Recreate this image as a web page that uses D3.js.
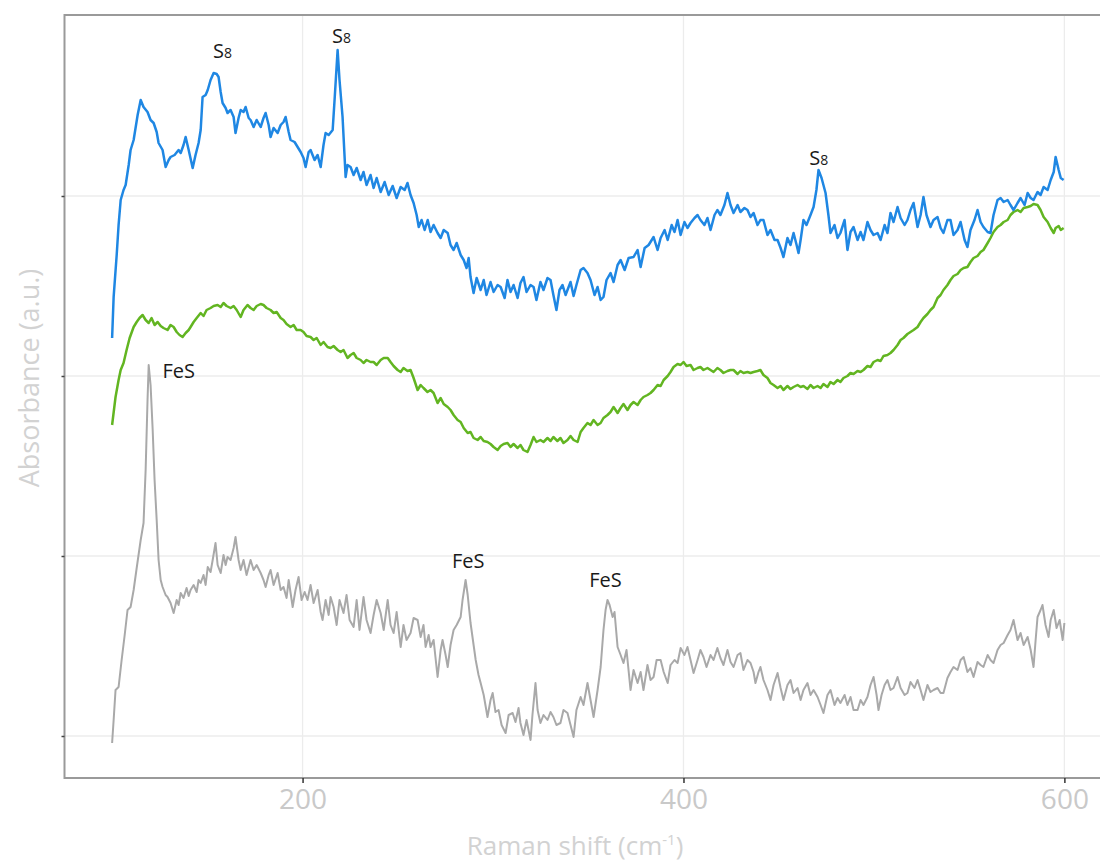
<!DOCTYPE html>
<html>
<head>
<meta charset="utf-8">
<script src="https://cdn.jsdelivr.net/npm/d3@7"></script>
<style>
  body { margin: 0; background: #fff; }
  svg { display: block; }
</style>
</head>
<body>
<div id="chart"></div>
<script>
// Raman shift (cm-1) vs absorbance (a.u.)
const xTicks = [200, 400, 600];
const yTicks = [0, 180, 360, 540];

// [shift, absorbance]
const blueSpectrum = [
  [100,398],[100.8,439],[102.4,481],[103.4,511],[104.5,536],[106,546],[107.1,551],[108.7,571],[109.7,586],[111.3,596],
  [113.4,621],[115,636],[116.5,629],[118.6,624],[120.2,616],[121.8,613],[123.4,604],[124.4,593],[126.5,586],[128.1,569],
  [129.7,576],[130.7,579],[132.8,581],[134.9,586],[136,583],[137.5,591],[138.6,599],[140.2,586],[142.3,568],[143.8,581],
  [145.4,593],[146.5,606],[147.5,639],[149.1,641],[150.2,646],[151.7,656],[153.3,663],[154.9,662],[155.9,659],[157,644],
  [158,633],[159.6,628],[160.6,623],[162.2,626],[163.8,619],[164.8,603],[166.4,618],[167.5,626],[169,624],[170.1,629],
  [171.7,618],[172.7,616],[174.3,609],[175.9,616],[178,609],[179.5,618],[180.6,623],[182.2,611],[183.2,599],[184.8,608],
  [186.9,603],[188.5,611],[190,614],[191.1,619],[192.7,604],[193.7,596],[195.8,594],[197.4,589],[199,584],[200.5,578],
  [201.6,569],[203.2,584],[204.2,586],[206.3,576],[207.9,581],[209.5,569],[211,591],[212.1,603],[213.7,601],[215.8,606],
  [216.8,636],[218.4,686],[219.4,656],[221,619],[222.6,559],[223.6,571],[225.2,569],[226.8,561],[228.4,568],[230.5,556],
  [232,564],[233.6,551],[235.7,561],[237.3,548],[238.9,558],[241,544],[243.1,554],[245.2,541],[247.3,550],[249.4,538],
  [251.5,549],[253.6,546],[255.1,553],[256.7,541],[258.3,533],[259.9,521],[261,509],[262.5,516],[264.1,506],[265.7,516],
  [267.2,504],[268.8,511],[270.9,503],[272.5,498],[274.1,506],[276.2,503],[277.7,491],[279.3,486],[280.9,493],[283,481],
  [284.6,476],[286.1,468],[287.2,478],[288.2,459],[289.8,443],[291.4,458],[293.5,446],[295.1,456],[296.6,441],[298.7,454],
  [300.3,444],[302.4,451],[304,449],[306.1,438],[307.6,456],[309.2,444],[310.8,451],[312.9,438],[314.4,453],[316,459],
  [317.6,444],[319.7,451],[321.3,449],[322.8,436],[324.9,454],[326.5,446],[328.6,458],[330.2,456],[331.7,441],[333.3,426],
  [334.9,446],[336.5,451],[338.1,441],[339.1,446],[340.7,454],[342.3,440],[343.8,451],[346,466],[347.5,468],[349.6,463],
  [351.2,456],[353.3,441],[354.9,449],[356.5,436],[358,439],[359.6,456],[361.7,463],[363.3,454],[365.4,471],[367,476],
  [369.1,466],[371.2,478],[373.8,479],[375.9,486],[377.5,469],[379.6,488],[381.7,491],[384.3,499],[386.4,486],[388,498],
  [390.1,506],[391.7,496],[393.8,511],[395.3,504],[396.9,516],[398.5,501],[400.5,514],[402.1,508],[403.7,513],[405.8,518],
  [407.4,521],[408.9,516],[411,511],[412.6,518],[414.2,506],[416.3,521],[417.8,526],[419.4,521],[421.5,531],[423.1,543],
  [424.7,531],[426.3,523],[428.4,531],[429.9,524],[432,528],[433.6,526],[435.2,519],[436.8,523],[438.9,511],[440.4,516],
  [442,516],[444.1,501],[445.7,506],[447.8,496],[449.4,496],[451,488],[452.5,479],[454.6,498],[456.2,491],[457.8,503],
  [459.4,491],[460.4,483],[461.5,496],[463,516],[464.6,511],[466.7,521],[468.3,529],[469.8,546],[470.9,566],[472.5,558],
  [474.6,543],[476.1,521],[477.2,503],[479.3,511],[480.9,498],[482.4,503],[484.6,516],[486.1,486],[487.7,504],[489.3,509],
  [491.4,496],[493,504],[494.5,496],[496.6,514],[498.2,506],[499.8,501],[501.9,503],[503.5,496],[505.6,511],[507.1,503],
  [508.7,523],[510.3,514],[512.4,529],[514,518],[516.1,511],[517.6,516],[519.2,526],[520.8,533],[522.9,509],[524.5,521],
  [526,539],[527.6,521],[529.7,509],[531.3,516],[533.4,519],[535,508],[536.5,503],[538.6,516],[540.2,516],[541.8,501],
  [543.9,506],[545.5,514],[547.6,496],[549.1,489],[550.7,506],[552.8,516],[554.4,526],[556,514],[557.5,509],[559.7,504],
  [561.2,503],[562.8,521],[564.9,536],[566.5,538],[568.1,534],[570.2,536],[571.7,531],[573.3,526],[575.4,533],[577,538],
  [579.1,531],[580.7,543],[582.3,538],[583.8,536],[585.9,544],[587.5,541],[589.1,549],[591.2,546],[592.8,556],[594.4,564],
  [595.4,579],[597,566],[598.1,558],[599.6,556]
];

const greenSpectrum = [
  [100,311],[101.8,339],[103.4,356],[104.5,366],[106,373],[107.6,386],[109.2,398],[111.3,409],[112.9,414],[114.4,418],
  [116,421],[117.6,416],[119.2,413],[120.7,418],[122.3,411],[123.9,414],[125.5,410],[127,408],[129.1,406],[130.7,411],
  [132.3,409],[133.9,404],[135.4,401],[137,399],[138.6,403],[140.2,406],[141.2,409],[142.8,414],[144.4,418],[146.5,423],
  [148,420],[149.6,426],[151.7,428],[153.3,430],[155.4,431],[157,429],[158.5,433],[160.1,430],[162.2,428],[163.8,430],
  [165.4,426],[167.5,419],[169,426],[171.1,431],[172.7,428],[174.3,426],[175.9,430],[178,432],[179.5,431],[181.1,428],
  [183.2,426],[184.8,423],[186.4,424],[188.5,418],[190,416],[191.6,412],[193.7,409],[195.3,411],[196.9,406],[199,406],
  [200.5,404],[202.1,400],[204.2,399],[205.8,396],[207.4,398],[209.5,391],[211,394],[213.1,389],[214.7,388],[216.3,390],
  [218.4,386],[220,384],[221.5,386],[223.6,378],[225.2,381],[226.8,383],[228.4,378],[230.5,376],[232,373],[233.6,376],
  [235.7,374],[237.3,374],[238.9,371],[241,376],[242.6,378],[244.7,378],[246.2,374],[247.8,370],[249.9,366],[251.5,364],
  [253,368],[255.1,365],[256.7,366],[258.3,358],[260.4,346],[262,351],[263.5,348],[265.6,344],[267.2,346],[268.8,343],
  [270.9,333],[272.5,338],[274.1,332],[276.2,329],[277.7,326],[279.3,321],[281.4,316],[283,314],[284.6,308],[286.7,303],
  [288.2,304],[289.8,298],[291.9,296],[293.5,299],[295.1,295],[297.1,294],[298.7,292],[300.3,289],[302.4,286],[304,290],
  [305.6,292],[307.6,293],[309.2,289],[310.8,292],[312.9,288],[314.4,291],[316,286],[318.1,284],[319.7,291],[321.3,299],
  [322.8,294],[324.9,296],[326.5,294],[328.6,298],[330.2,295],[331.7,299],[333.8,295],[335.4,298],[337,293],[339.1,296],
  [340.7,300],[342.3,296],[344.4,294],[346,304],[347.5,308],[349.6,313],[351.2,311],[352.8,316],[354.9,311],[356.5,313],
  [358,318],[360.1,321],[361.7,324],[363.3,329],[365.4,323],[367,328],[368.5,332],[370.6,326],[372.2,331],[373.8,334],
  [375.9,331],[377.5,336],[379,339],[381.1,341],[382.7,343],[384.3,346],[386.4,351],[388,350],[389.6,356],[391.7,360],
  [393.2,364],[394.8,369],[396.9,372],[398.5,371],[400,374],[401.6,370],[403.7,371],[405.3,366],[407.4,368],[408.9,369],
  [410.5,366],[412.6,368],[414.2,366],[415.8,364],[417.8,368],[419.4,366],[421,363],[423.1,365],[424.7,366],[426.3,366],
  [428.4,362],[429.9,365],[431.5,363],[433.6,364],[435.2,363],[436.8,364],[438.9,365],[440.4,366],[442,361],[444.1,358],
  [445.7,353],[447.3,351],[449.4,348],[451,350],[452.5,346],[454.6,350],[456.2,347],[457.8,349],[459.9,351],[461.5,349],
  [463,350],[465.1,347],[466.7,351],[468.3,348],[470.4,350],[472,348],[473.5,352],[475.6,349],[477.2,354],[478.8,352],
  [480.9,356],[482.4,354],[484,358],[486.1,360],[487.7,363],[489.3,362],[491.4,365],[493,364],[494.5,366],[496.6,370],
  [498.2,369],[499.8,374],[501.9,376],[503.5,375],[505,380],[507.1,381],[508.7,383],[510.3,386],[512.4,391],[514,396],
  [515.5,398],[517.6,402],[519.2,404],[520.8,406],[522.9,409],[524.5,414],[526,418],[528.1,422],[529.7,426],[531.3,429],
  [533.4,438],[535,441],[536.5,446],[538.6,451],[540.2,456],[541.8,460],[543.9,462],[545.5,466],[547.1,468],[549.1,469],
  [550.7,474],[552.3,478],[554.4,480],[556,484],[557.5,486],[559.7,493],[561.2,498],[562.8,504],[564.9,509],[566.5,511],
  [568.1,514],[570.2,516],[571.7,521],[573.3,524],[575.4,526],[577,524],[578.6,528],[580.7,529],[582.3,530],[583.8,532],
  [585.9,531],[587.5,526],[589.1,519],[591.2,514],[592.8,508],[594.4,503],[595.4,508],[597,510],[598.1,506],[599.6,508]
];

const greySpectrum = [
  [100,-7],[100.8,16],[101.8,46],[103.4,49],[105,76],[106.6,101],[108.1,126],[109.7,129],[111.3,146],[112.9,168],
  [115,196],[116.5,213],[117.6,266],[118.6,336],[119.2,371],[120.2,351],[121.3,306],[122.3,256],[123.4,216],[124.4,176],
  [125.5,156],[126.5,149],[128.1,141],[129.1,139],[130.7,133],[132.3,123],[133.9,136],[134.9,131],[136,143],[137.5,138],
  [139.1,148],[140.2,140],[141.2,146],[142.8,151],[144.4,144],[145.4,156],[146.5,153],[148,161],[149.1,151],[150.2,169],
  [151.7,164],[152.8,176],[154.3,193],[155.4,171],[157,163],[158.5,181],[159.6,171],[160.6,179],[162.2,176],[163.8,188],
  [164.8,199],[166.4,176],[167.5,166],[169,176],[170.6,161],[172.7,176],[174.3,166],[175.9,171],[178,163],[179.5,156],
  [180.6,149],[182.2,161],[183.2,166],[184.8,151],[186.9,163],[188.5,146],[190,149],[191.6,138],[192.7,156],[194.8,129],
  [196.3,146],[197.9,159],[199.5,136],[201.1,144],[202.6,136],[204.2,151],[205.8,133],[207.9,146],[209.5,124],[210.5,116],
  [212.1,136],[213.7,121],[214.7,139],[216.3,129],[217.9,111],[219.4,136],[221.5,123],[223.1,141],[224.7,116],[226.8,109],
  [228.4,136],[229.9,106],[232,139],[233.6,116],[235.7,103],[237.3,121],[238.9,136],[241,123],[242.6,106],[244.7,136],
  [246.2,111],[247.8,103],[249.4,124],[251.5,89],[253,111],[254.6,96],[256.7,103],[258.3,118],[260.4,116],[262,99],
  [263.5,111],[264.6,89],[266.2,101],[267.2,89],[268.8,96],[270.9,59],[272.5,86],[273.5,96],[275.1,81],[276.2,69],
  [277.7,91],[279.3,106],[280.9,111],[283,119],[284,136],[285.6,156],[286.7,141],[288.2,113],[289.8,91],[290.9,76],
  [292.4,61],[293.5,53],[295.1,41],[297.1,19],[298.7,36],[299.8,43],[301.3,24],[302.9,26],[304.5,11],[306.6,3],
  [308.2,21],[310.3,23],[311.8,14],[313.4,28],[314.4,13],[316,1],[317.6,16],[319.7,-4],[320.7,21],[322.3,53],
  [323.4,26],[324.9,13],[326.5,21],[328.6,16],[330.2,24],[331.7,19],[333.3,11],[335.4,13],[337,26],[339.1,23],
  [340.7,11],[342.3,-1],[343.8,26],[346,39],[347.5,31],[349.6,53],[351.2,36],[352.8,19],[354.9,46],[356.5,69],
  [358,106],[359.1,126],[360.1,136],[361.2,131],[362.8,119],[363.8,124],[365.4,89],[367,81],[368.5,73],[370.1,86],
  [372.2,46],[373.8,66],[375.9,53],[377.5,64],[379,46],[381.1,71],[382.7,56],[384.3,59],[385.9,76],[388,76],
  [389.6,64],[391.7,53],[393.2,71],[395.3,76],[396.9,73],[398.5,88],[400.5,81],[402.1,89],[403.7,76],[405.3,63],
  [407.4,76],[408.9,86],[410.5,79],[412.1,69],[414.2,81],[415.8,76],[417.8,88],[419.4,78],[421,71],[423.1,86],
  [424.7,74],[426.3,69],[428.4,81],[429.9,83],[431.5,66],[433.6,76],[435.2,73],[436.8,64],[437.8,53],[439.4,64],
  [440.4,69],[442,56],[444.1,46],[445.7,36],[447.3,51],[449.4,63],[451,48],[452.5,36],[454.6,51],[456.2,56],
  [457.8,43],[459.9,48],[461.5,36],[463,46],[465.1,53],[466.7,41],[468.3,46],[470.4,39],[472,31],[473.5,23],
  [475.6,41],[477.2,46],[479.3,31],[480.9,38],[482.4,33],[484.6,41],[486.1,31],[487.7,39],[489.3,26],[491.4,26],
  [493,36],[494.5,31],[496.6,39],[498.2,51],[499.8,59],[501.4,41],[502.4,26],[504,41],[505.6,51],[507.1,56],
  [508.7,46],[510.3,48],[512.4,59],[514,48],[516.1,41],[517.6,43],[519.2,54],[521.3,48],[522.9,56],[524.5,46],
  [526,36],[528.1,51],[529.7,44],[531.3,46],[533.4,48],[535,43],[536.5,43],[538.6,58],[540.2,64],[541.8,69],
  [543.9,66],[545.5,76],[547.1,79],[549.1,64],[550.7,68],[552.3,59],[554.4,74],[556,71],[557.5,69],[559.7,81],
  [561.2,76],[562.8,73],[564.9,86],[566.5,91],[568.1,93],[570.2,101],[571.7,106],[573.3,116],[575.4,96],[577,103],
  [578.6,91],[580.7,99],[582.3,86],[583.8,69],[584.9,96],[585.9,119],[587.5,126],[588.5,131],[590.1,111],[591.7,99],
  [592.8,116],[594.4,126],[595.9,108],[597.5,116],[599.1,96],[600,113]
];

// peak labels: species, subscript, shift of label centre, absorbance at baseline
const labelSpecies = ["S", "S", "S", "FeS", "FeS", "FeS"];
const labelSub = ["8", "8", "8", "", "", ""];
const labelShift = [158, 220.5, 471, 135, 287, 359];
const labelValue = [678, 693, 571, 358, 168, 149];

const width = 1100, height = 866;

const svg = d3.select("#chart").append("svg")
    .attr("width", width)
    .attr("height", height);

const x = d3.scaleLinear().domain([75, 625]).range([64.5, 1112]);
const y = d3.scaleLinear().domain([-42, 721]).range([778, 15]);

svg.append("defs").append("clipPath").attr("id", "panel")
  .append("rect")
    .attr("x", x(75)).attr("y", y(721))
    .attr("width", x(625) - x(75)).attr("height", y(-42) - y(721));

// grid
const grid = svg.append("g");
grid.selectAll("line.v").data(xTicks).enter().append("line")
    .attr("x1", d => x(d)).attr("x2", d => x(d))
    .attr("y1", y(721)).attr("y2", y(-42))
    .attr("stroke", "#ececec").attr("stroke-width", 1.3);
grid.selectAll("line.h").data(yTicks).enter().append("line")
    .attr("x1", x(75)).attr("x2", x(625))
    .attr("y1", d => y(d)).attr("y2", d => y(d))
    .attr("stroke", "#ececec").attr("stroke-width", 1.3);

// spectra
const line = d3.line().x(d => x(d[0])).y(d => y(d[1]));
const series = [
  {data: greySpectrum, color: "#a9a9a9", w: 2},
  {data: greenSpectrum, color: "#62b521", w: 2.5},
  {data: blueSpectrum, color: "#1f87e3", w: 2.5}
];
svg.append("g").attr("clip-path", "url(#panel)")
  .selectAll("path").data(series).enter().append("path")
    .attr("d", d => line(d.data))
    .attr("fill", "none")
    .attr("stroke", d => d.color)
    .attr("stroke-width", d => d.w)
    .attr("stroke-linejoin", "round");

// panel border
svg.append("rect")
    .attr("x", x(75)).attr("y", y(721))
    .attr("width", x(625) - x(75)).attr("height", y(-42) - y(721))
    .attr("fill", "none")
    .attr("stroke", "#9a9a9a")
    .attr("stroke-width", 2);

// axes
const xAxis = svg.append("g")
    .attr("transform", `translate(0,${y(-42)})`)
    .call(d3.axisBottom(x).tickValues(xTicks).tickSize(5).tickPadding(6));
xAxis.select(".domain").remove();
xAxis.selectAll(".tick line").attr("stroke", "#333").attr("stroke-width", 1.5);
xAxis.selectAll(".tick text")
    .attr("fill", "#c9c9c9")
    .style("font-family", "'Open Sans', sans-serif")
    .style("font-size", "28px");

const yAxis = svg.append("g")
    .attr("transform", `translate(${x(75)},0)`)
    .call(d3.axisLeft(y).tickValues(yTicks).tickSize(3).tickFormat(""));
yAxis.select(".domain").remove();
yAxis.selectAll(".tick line").attr("stroke", "#444").attr("stroke-width", 1.5);

// peak labels
const labels = svg.append("g")
    .style("font-family", "'Open Sans', sans-serif")
    .attr("fill", "#1a1a1a");
labelSpecies.forEach((s, i) => {
  const t = labels.append("text")
      .attr("x", x(labelShift[i]))
      .attr("y", y(labelValue[i]))
      .attr("text-anchor", "middle")
      .style("font-size", "20px")
      .text(s);
  if (labelSub[i]) {
    t.append("tspan").style("font-size", "14px").text(labelSub[i]);
  }
});

// axis titles
const xt = svg.append("text")
    .attr("x", 575)
    .attr("y", 855)
    .attr("text-anchor", "middle")
    .attr("fill", "#d2d2d2")
    .style("font-family", "'Open Sans', sans-serif")
    .style("font-size", "26px")
    .text("Raman shift (cm");
xt.append("tspan").attr("dy", -10).style("font-size", "15px").text("-1");
xt.append("tspan").attr("dy", 10).text(")");

svg.append("text")
    .attr("transform", `translate(39,378) rotate(-90)`)
    .attr("text-anchor", "middle")
    .attr("fill", "#d2d2d2")
    .style("font-family", "'Open Sans', sans-serif")
    .style("font-size", "27px")
    .text("Absorbance (a.u.)");
</script>
</body>
</html>
